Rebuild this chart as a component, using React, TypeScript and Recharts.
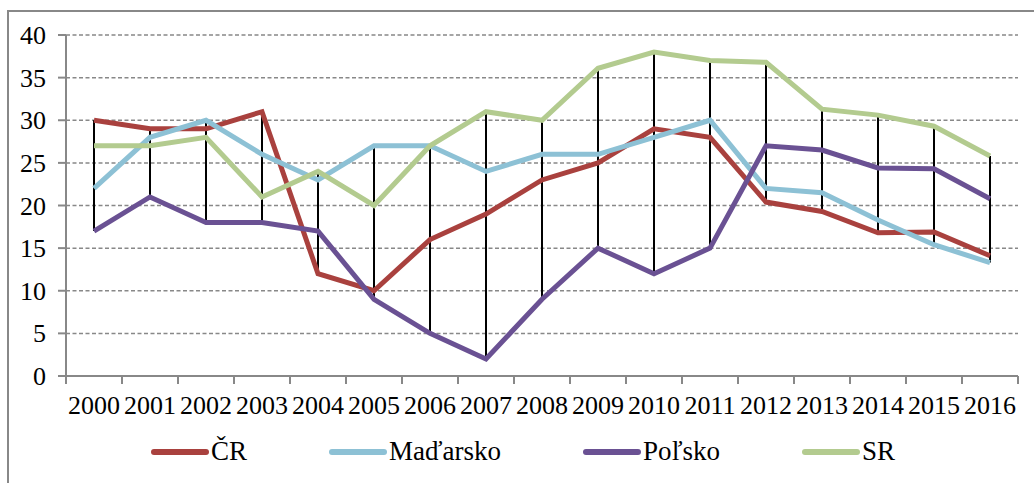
import { ComposedChart, XAxis, YAxis, CartesianGrid, Line, Bar } from 'recharts';

const roky = ['2000', '2001', '2002', '2003', '2004', '2005', '2006', '2007', '2008', '2009', '2010', '2011', '2012', '2013', '2014', '2015', '2016'];
const cr = [30, 29, 29, 31, 12, 10, 16, 19, 23, 25, 29, 28, 20.4, 19.3, 16.8, 16.9, 14.1];
const madarsko = [22, 28, 30, 26, 23, 27, 27, 24, 26, 26, 28, 30, 22, 21.5, 18.3, 15.4, 13.3];
const polsko = [17, 21, 18, 18, 17, 9, 5, 2, 9, 15, 12, 15, 27, 26.5, 24.4, 24.3, 20.8];
const sr = [27, 27, 28, 21, 24, 20, 27, 31, 30, 36.1, 38, 37, 36.8, 31.3, 30.6, 29.3, 25.8];
const yTicks = [0, 5, 10, 15, 20, 25, 30, 35, 40];

const serie = [
  { key: 'cr', name: 'ČR', color: '#A9413E', values: cr },
  { key: 'hu', name: 'Maďarsko', color: '#8DC1D5', values: madarsko },
  { key: 'pl', name: 'Poľsko', color: '#6A5193', values: polsko },
  { key: 'sr', name: 'SR', color: '#B3CB8F', values: sr },
];

type Riadok = { rok: string; rozsah: [number, number]; [k: string]: any };

const data: Riadok[] = roky.map((rok, i) => {
  const row: Riadok = { rok, rozsah: [0, 0] };
  const vals = serie.map((s) => s.values[i]);
  serie.forEach((s) => {
    row[s.key] = s.values[i];
  });
  row.rozsah = [Math.min(...vals), Math.max(...vals)];
  return row;
});

const W = 1034;
const H = 483;
const FONT = 'Liberation Serif';
const PLOT_BOTTOM = 376;
const BAND = (1018 - 66) / roky.length;

const HighLow = (props: any) => {
  const { x, y, width, height } = props;
  if (x == null || y == null) return null;
  const cx = x + width / 2;
  const top = Math.min(y, y + height);
  const bot = Math.max(y, y + height);
  return <line x1={cx} x2={cx} y1={top} y2={bot} stroke="#000" strokeWidth={2} />;
};

const XTick = (props: any) => {
  const { x, y, payload, index } = props;
  return (
    <g>
      <line x1={x - BAND / 2} x2={x - BAND / 2} y1={PLOT_BOTTOM} y2={PLOT_BOTTOM + 8} stroke="#888" strokeWidth={2} />
      {index === roky.length - 1 && (
        <line x1={x + BAND / 2} x2={x + BAND / 2} y1={PLOT_BOTTOM} y2={PLOT_BOTTOM + 8} stroke="#888" strokeWidth={2} />
      )}
      <text x={x} y={y} dy="0.71em" textAnchor="middle" fontFamily={FONT} fontSize={26} fill="#000">
        {payload.value}
      </text>
    </g>
  );
};

const YTick = (props: any) => {
  const { x, y, payload } = props;
  return (
    <text x={x} y={y} dy="0.35em" textAnchor="end" fontFamily={FONT} fontSize={26} fill="#000">
      {payload.value}
    </text>
  );
};

const App = () => {
  return (
    <div style={{ position: 'absolute', left: 0, top: 0, width: W, height: H, overflow: 'hidden', background: '#fff' }}>
      <div
        style={{
          position: 'absolute',
          left: 7,
          top: 10,
          width: 1200,
          height: 1000,
          border: '2px solid #888',
          boxSizing: 'border-box',
        }}
      />
      <div style={{ position: 'absolute', left: 0, top: 0 }}>
        <ComposedChart width={W} height={H} data={data} margin={{ top: 35, right: 16, left: 10, bottom: 57 }}>
          <CartesianGrid vertical={false} stroke="#888" strokeDasharray="4 2.5" strokeWidth={1.5} />
          <XAxis
            dataKey="rok"
            height={50}
            axisLine={{ stroke: '#888', strokeWidth: 2 }}
            tickLine={false}
            tickSize={8}
            tickMargin={12}
            interval={0}
            tick={<XTick />}
          />
          <YAxis
            width={56}
            domain={[0, 40]}
            ticks={yTicks}
            interval={0}
            axisLine={{ stroke: '#888', strokeWidth: 2 }}
            tickLine={{ stroke: '#888', strokeWidth: 2 }}
            tickSize={8}
            tickMargin={12}
            tick={<YTick />}
          />
          {serie.map((s) => (
            <Line
              key={s.key}
              type="linear"
              dataKey={s.key}
              name={s.name}
              stroke={s.color}
              strokeWidth={5}
              dot={false}
              activeDot={false}
              isAnimationActive={false}
            />
          ))}
          <Bar dataKey="rozsah" barSize={2} shape={<HighLow />} isAnimationActive={false} />
        </ComposedChart>
      </div>
      <div
        style={{
          position: 'absolute',
          left: 0,
          top: 436,
          width: W,
          display: 'flex',
          justifyContent: 'center',
          gap: 82,
          paddingLeft: 12,
          boxSizing: 'border-box',
          fontFamily: FONT,
          fontSize: 27,
        }}
      >
        {serie.map((s) => (
          <div key={s.key} style={{ display: 'flex', alignItems: 'center' }}>
            <svg width={58} height={10} style={{ marginRight: 2 }}>
              <line x1={3} x2={55} y1={5} y2={5} stroke={s.color} strokeWidth={6} strokeLinecap="round" />
            </svg>
            <span>{s.name}</span>
          </div>
        ))}
      </div>
    </div>
  );
};

export default App;
